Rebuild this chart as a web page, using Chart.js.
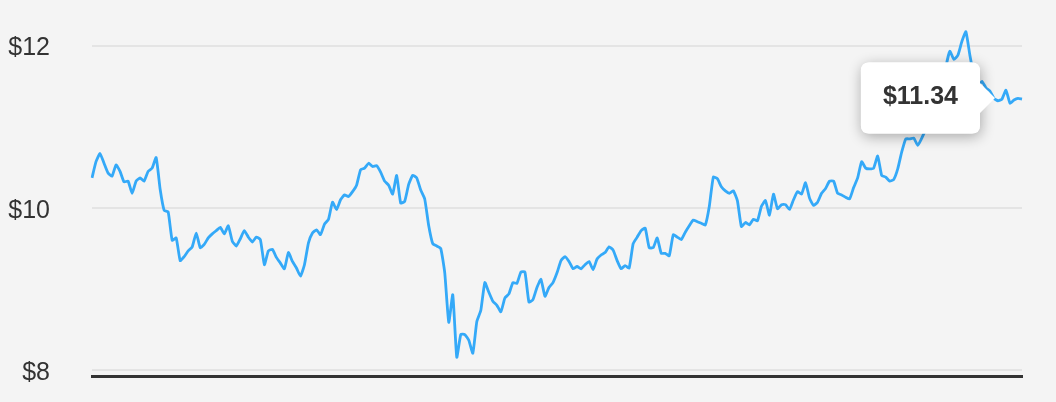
<!DOCTYPE html>
<html>
<head>
<meta charset="utf-8">
<script src="https://cdn.jsdelivr.net/npm/chart.js@4.4.0/dist/chart.umd.min.js"></script>
<style>
  html, body { margin: 0; padding: 0; background: #f4f4f4; }
  #wrap { width: 1056px; height: 402px; position: relative; }
</style>
</head>
<body>
<div id="wrap"><canvas id="c"></canvas></div>
<script>
// Daily closing prices (four segments)
const pricesPart1 = [
  10.37, 10.57, 10.67, 10.55, 10.43, 10.39, 10.53, 10.45, 10.32, 10.33,
  10.18, 10.33, 10.37, 10.33, 10.45, 10.49, 10.62, 10.23, 9.97, 9.95,
  9.60, 9.63, 9.35, 9.40, 9.47, 9.52, 9.69, 9.51, 9.55, 9.63,
  9.68, 9.72, 9.76, 9.68, 9.78, 9.59, 9.53, 9.62, 9.72, 9.64,
  9.58, 9.64, 9.61, 9.30, 9.47, 9.49, 9.39, 9.32, 9.25, 9.45,
  9.34, 9.26, 9.16, 9.30, 9.57, 9.69, 9.73, 9.67, 9.80, 9.86
];
const pricesPart2 = [
  10.07, 9.98, 10.10, 10.16, 10.14, 10.20, 10.28, 10.47, 10.49, 10.55,
  10.51, 10.52, 10.44, 10.33, 10.28, 10.17, 10.40, 10.06, 10.08, 10.29,
  10.40, 10.37, 10.22, 10.11, 9.78, 9.56, 9.53, 9.50, 9.20, 8.59,
  8.93, 8.16, 8.44, 8.44, 8.37, 8.21, 8.60, 8.74, 9.08, 8.96,
  8.85, 8.80, 8.72, 8.89, 8.94, 9.08, 9.07, 9.21, 9.21, 8.84,
  8.87, 9.02, 9.12, 8.91, 9.02, 9.08, 9.20, 9.35, 9.40, 9.34
];
const pricesPart3 = [
  9.25, 9.28, 9.25, 9.30, 9.34, 9.24, 9.37, 9.42, 9.45, 9.52,
  9.48, 9.35, 9.25, 9.29, 9.26, 9.56, 9.64, 9.72, 9.75, 9.51,
  9.51, 9.63, 9.44, 9.44, 9.41, 9.67, 9.64, 9.61, 9.70, 9.78,
  9.85, 9.83, 9.81, 9.79, 10.02, 10.38, 10.36, 10.26, 10.21, 10.18,
  10.21, 10.09, 9.77, 9.82, 9.79, 9.86, 9.84, 10.02, 10.09, 9.91,
  10.17, 9.99, 10.04, 10.04, 9.98, 10.10, 10.20, 10.17, 10.31, 10.12
];
const pricesPart4 = [
  10.03, 10.07, 10.18, 10.24, 10.33, 10.33, 10.18, 10.16, 10.13, 10.11,
  10.25, 10.37, 10.57, 10.49, 10.48, 10.49, 10.64, 10.40, 10.38, 10.33,
  10.35, 10.48, 10.69, 10.85, 10.85, 10.86, 10.77, 10.86, 10.97, 11.09,
  11.12, 11.31, 11.37, 11.73, 11.93, 11.83, 11.88, 12.05, 12.17, 11.88,
  11.63, 11.50, 11.56, 11.48, 11.44, 11.35, 11.32, 11.34, 11.45, 11.29,
  11.33, 11.35, 11.34
];
const yTickValues = [8, 10, 12];

const prices = [].concat(pricesPart1, pricesPart2, pricesPart3, pricesPart4);
const days = prices.map((_, i) => 'Day ' + (i + 1));
const tooltipIndex = prices.length - 1;

const FONT = "'Liberation Sans', Arial, Helvetica, sans-serif";

const tooltipShadow = {
  id: 'tooltipShadow',
  beforeTooltipDraw(chart, args) {
    const tt = args.tooltip;
    if (!tt || !tt.opacity) return;
    const ctx = chart.ctx;
    ctx.save();
    ctx.shadowColor = 'rgba(0,0,0,0.32)';
    ctx.shadowBlur = 14;
    ctx.shadowOffsetX = 1;
    ctx.shadowOffsetY = 3;
    ctx.fillStyle = '#ffffff';
    ctx.beginPath();
    ctx.roundRect(tt.x, tt.y, tt.width, tt.height, 8);
    ctx.fill();
    ctx.restore();
  }
};

const chart = new Chart(document.getElementById('c'), {
  type: 'line',
  data: {
    labels: days,
    datasets: [{
      data: prices,
      borderColor: '#34a9f8',
      borderWidth: 2.8,
      pointRadius: 0,
      pointHoverRadius: 0,
      tension: 0.15,
      fill: false
    }]
  },
  options: {
    responsive: true,
    maintainAspectRatio: false,
    animation: false,
    events: [],
    layout: { padding: { left: 0, right: 34, top: 0, bottom: 0 } },
    plugins: {
      legend: { display: false },
      tooltip: {
        enabled: true,
        mode: 'index',
        intersect: false,
        backgroundColor: '#ffffff',
        bodyColor: '#333333',
        bodyFont: { family: FONT, size: 25, weight: 'bold' },
        displayColors: false,
        padding: { top: 20, bottom: 21, left: 22, right: 22 },
        cornerRadius: 8,
        caretSize: 15,
        caretPadding: 27,
        xAlign: 'right',
        yAlign: 'center',
        borderWidth: 0,
        callbacks: {
          title: () => '',
          label: (c) => '$' + c.parsed.y.toFixed(2)
        }
      }
    },
    scales: {
      x: {
        display: true,
        grid: { display: false },
        ticks: { display: false },
        border: { display: true, color: '#333333', width: 3 },
        afterFit(s) { s.height = 26; s.paddingLeft = 0; s.paddingRight = 0; }
      },
      y: {
        min: 7.929,
        max: 12.544,
        afterBuildTicks(s) { s.ticks = yTickValues.map(v => ({ value: v })); },
        afterFit(s) { s.width = 92; s.paddingTop = 0; s.paddingBottom = 0; },
        grid: { color: '#e4e4e4', lineWidth: 2, drawTicks: false },
        border: { display: false },
        ticks: {
          padding: 42,
          color: '#333333',
          font: { family: FONT, size: 25 },
          labelOffset: 3,
          callback: (v) => '$' + v
        }
      }
    }
  },
  plugins: [tooltipShadow]
});

chart.tooltip.setActiveElements([{ datasetIndex: 0, index: tooltipIndex }], { x: 0, y: 0 });
chart.update();
</script>
</body>
</html>
